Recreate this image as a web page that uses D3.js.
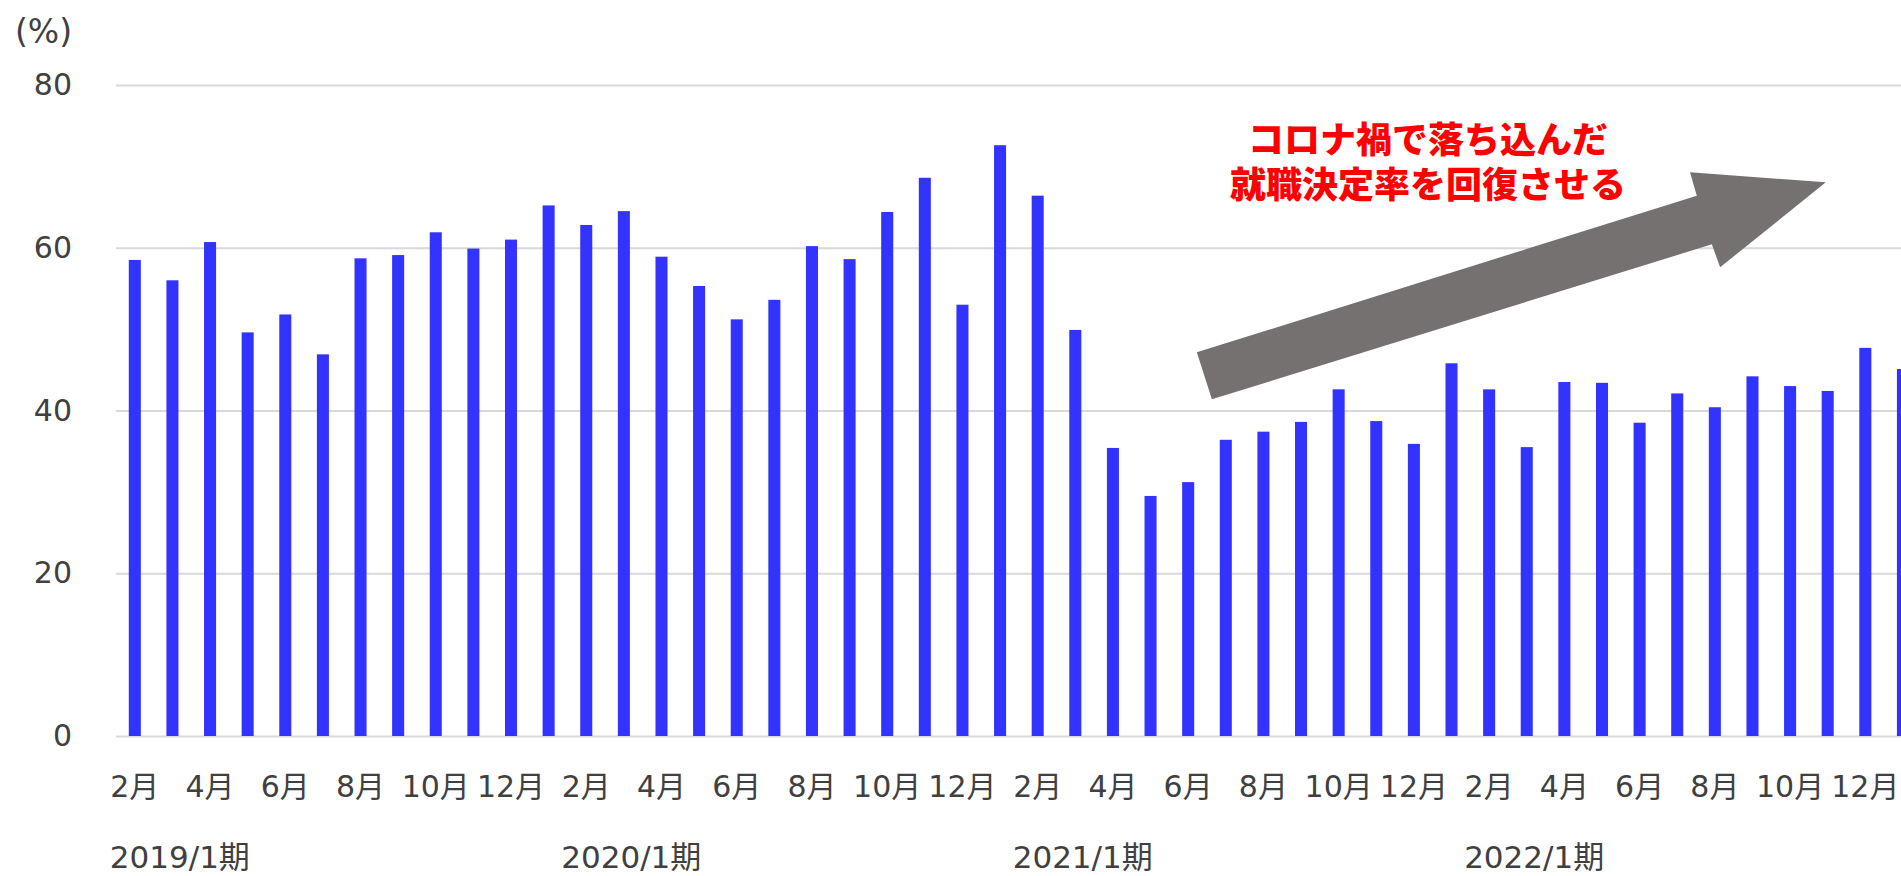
<!DOCTYPE html>
<html>
<head>
<meta charset="utf-8">
<script src="https://cdn.jsdelivr.net/npm/d3@7"></script>
<style>
    body { margin: 0; background: #fff; overflow: hidden; }
    svg { display: block; }
    svg text { font-family: "DejaVu Sans", "Noto Sans CJK JP", sans-serif; }
</style>
</head>
<body>
<div class="canvas-container"></div>
<script>
    "use strict";

    // monthly categories, Feb 2019 .. Jan 2023
    var months = ["2月","3月","4月","5月","6月","7月","8月","9月","10月","11月","12月","1月",
                  "2月","3月","4月","5月","6月","7月","8月","9月","10月","11月","12月","1月",
                  "2月","3月","4月","5月","6月","7月","8月","9月","10月","11月","12月","1月",
                  "2月","3月","4月","5月","6月","7月","8月","9月","10月","11月","12月","1月"];

    var rates = [58.5, 56.0, 60.7, 49.6, 51.8, 46.9, 58.7, 59.1, 61.9, 59.9, 61.0, 65.2,
                 62.8, 64.5, 58.9, 55.3, 51.2, 53.6, 60.2, 58.6, 64.4, 68.6, 53.0, 72.6,
                 66.4, 49.9, 35.4, 29.5, 31.2, 36.4, 37.4, 38.6, 42.6, 38.7, 35.9, 45.8,
                 42.6, 35.5, 43.5, 43.4, 38.5, 42.1, 40.4, 44.2, 43.0, 42.4, 47.7, 45.1];

    var yearLabels = ["2019/1期", "2020/1期", "2021/1期", "2022/1期"];
    var yearStart = [0, 12, 24, 36];

    var yTicks = [0, 20, 40, 60, 80];

    var noteLines = ["コロナ禍で落ち込んだ", "就職決定率を回復させる"];

    // arrow outline in chart units: [category index, percent]
    var arrowPts = [[28.23, 47.15], [41.52, 66.4], [41.34, 69.27], [44.95, 68.04],
                    [42.14, 57.6], [41.92, 60.42], [28.63, 41.38]];

    var width = 1901, height = 876;
    var textColor = "#404040";
    var fontStack = "'DejaVu Sans', 'Noto Sans CJK JP', sans-serif";

    var svg = d3.select("div.canvas-container")
        .append("svg")
        .attr("width", width)
        .attr("height", height);

    var x = d3.scaleBand()
        .domain(d3.range(rates.length))
        .range([116, 116 + 37.62 * rates.length])
        .paddingInner(0.68)
        .paddingOuter(0.34);

    var y = d3.scaleLinear()
        .domain([0, 80])
        .range([736, 85]);

    function cx(i) { return x(i) + x.bandwidth() / 2; }

    var xi = d3.scaleLinear()
        .domain([0, rates.length - 1])
        .range([cx(0), cx(rates.length - 1)]);

    // gridlines + y labels
    var yAxis = svg.append("g")
        .attr("transform", "translate(116,0)")
        .call(d3.axisLeft(y).tickValues(yTicks).tickSize(-(width - 116 + 30)).tickPadding(44));
    yAxis.attr("font-family", null).attr("font-size", null);
    yAxis.select(".domain").remove();
    yAxis.selectAll(".tick line")
        .attr("stroke", "#d9d9d9")
        .attr("stroke-width", 2);
    yAxis.selectAll(".tick text")
        .attr("fill", textColor)
        .style("font-family", fontStack)
        .style("font-size", "30px");

    svg.append("text")
        .attr("x", 15)
        .attr("y", 31)
        .attr("dy", "0.35em")
        .attr("fill", textColor)
        .style("font-size", "33px")
        .text("(%)");

    // bars
    svg.append("g")
        .selectAll("rect")
        .data(rates)
        .enter()
        .append("rect")
        .attr("x", function (d, i) { return x(i); })
        .attr("y", function (d) { return y(d); })
        .attr("width", x.bandwidth())
        .attr("height", function (d) { return y(0) - y(d); })
        .attr("fill", "#3333ff");

    // month labels, every other category
    var xAxis = svg.append("g")
        .attr("transform", "translate(0,736)")
        .call(d3.axisBottom(x)
              .tickValues(d3.range(0, rates.length, 2))
              .tickFormat(function (i) { return months[i]; })
              .tickSize(0)
              .tickPadding(40));
    xAxis.attr("font-family", null).attr("font-size", null);
    xAxis.select(".domain").remove();
    xAxis.selectAll(".tick text")
        .attr("fill", textColor)
        .style("font-family", fontStack)
        .style("font-size", "30px");

    // year labels
    svg.append("g")
        .selectAll("text")
        .data(yearLabels)
        .enter()
        .append("text")
        .attr("x", function (d, k) { return cx(yearStart[k]) - 25; })
        .attr("y", 857)
        .attr("dy", "0.35em")
        .attr("fill", textColor)
        .style("font-size", "31px")
        .text(function (d) { return d; });

    // arrow
    svg.append("path")
        .datum(arrowPts)
        .attr("d", d3.line()
              .x(function (p) { return xi(p[0]); })
              .y(function (p) { return y(p[1]); })
              .curve(d3.curveLinearClosed))
        .attr("fill", "#767171");

    // annotation, one text block with two lines
    var note = svg.append("text")
        .attr("text-anchor", "middle")
        .attr("fill", "#ff0000")
        .style("font-family", "'Noto Sans CJK JP', sans-serif")
        .style("font-weight", 900)
        .style("font-size", "36px");

    note.selectAll("tspan")
        .data(noteLines)
        .enter()
        .append("tspan")
        .attr("x", 1428)
        .attr("y", function (d, i) { return 140 + i * 45; })
        .attr("dy", "0.35em")
        .text(function (d) { return d; });
</script>
</body>
</html>
